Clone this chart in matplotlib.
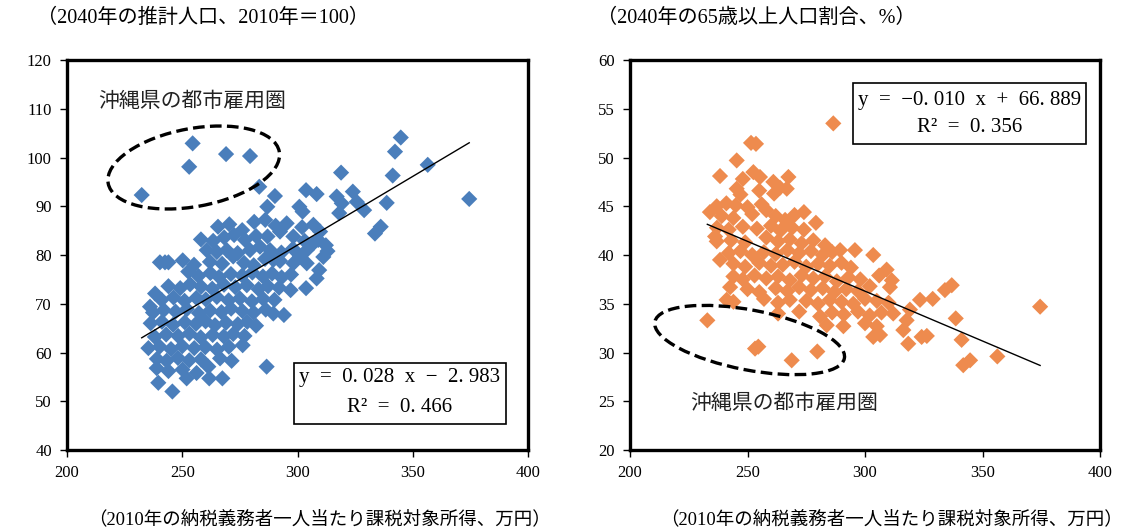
import numpy as np
import matplotlib
matplotlib.use('Agg')
import matplotlib.pyplot as plt
from matplotlib.patches import Ellipse, Rectangle
from matplotlib.transforms import IdentityTransform, ScaledTranslation

plt.rcParams['font.family'] = ['Liberation Serif', 'Noto Sans CJK JP']

# 左: 2040年の推計人口(2010年=100) vs 課税対象所得(万円)
income_l = [232.4, 254.5, 253.0, 269.0, 279.4, 344.8, 342.3, 356.5, 341.3, 318.9,
            374.5, 338.7, 283.4, 290.2, 286.9, 303.7, 308.3, 300.8, 302.2, 317.0,
            319.2, 318.1, 324.0, 325.7, 328.9, 333.6, 336.1, 265.5, 240.3, 242.5,
            244.0, 238.2, 236.0, 236.3, 235.3, 238.9, 239.6, 245.7, 251.9, 261.3,
            261.7, 267.4, 266.4, 271.4, 286.6, 276.2, 289.5, 294.1, 303.7, 308.3,
            311.2, 309.4, 260.6, 252.6,
            270.4, 276.0, 281.2, 286.0, 290.5, 295.3, 302.0, 306.9, 309.8,
            258.1, 263.4, 268.2, 272.5, 277.2, 282.0, 287.0, 292.4, 298.2, 303.1, 309.0, 312.3,
            265.0, 269.3, 274.0, 279.4, 283.7, 288.1, 293.0, 298.0, 304.0, 306.9, 313.0,
            250.2, 255.1, 262.0, 267.3, 272.1, 276.8, 281.0, 285.9, 289.5, 292.4, 298.2, 301.1, 304.0,
            257.0, 262.2, 266.0, 271.1, 276.0, 280.4, 285.0, 289.0, 293.1, 297.2,
            244.0, 249.1, 253.4, 258.2, 263.0, 268.1, 273.0, 278.0, 283.1, 287.2, 292.0, 297.0,
            241.0, 246.2, 251.0, 256.1, 260.2, 265.0, 270.1, 275.0, 280.2, 285.1, 290.0,
            237.3, 242.0, 247.1, 252.0, 257.2, 262.1, 267.0, 271.2, 276.1, 281.0, 286.2,
            241.2, 246.0, 251.1, 256.0, 260.1, 264.2, 269.0, 274.1, 278.2, 282.0,
            238.1, 243.0, 248.2, 253.1, 258.0, 263.2, 268.0, 272.1, 277.0,
            240.2, 245.1, 250.0, 255.2, 260.0, 265.1, 270.2,
            239.0, 243.2, 248.1, 253.0, 258.1,
            244.0, 250.1, 256.2]
pop_l = [92.3, 102.9, 98.1, 100.7, 100.3, 104.1, 101.2, 98.5, 96.3, 96.9,
         91.5, 90.7, 94.0, 92.1, 89.9, 93.3, 92.5, 89.9, 88.9, 92.0,
         90.6, 88.6, 93.0, 90.9, 89.2, 84.4, 85.8, 85.8, 78.5, 78.5,
         78.5, 72.1, 69.4, 66.0, 60.9, 56.8, 53.8, 52.0, 54.7, 57.1,
         54.7, 54.7, 58.8, 58.3, 57.1, 61.5, 68.0, 67.7, 73.2, 75.2,
         79.6, 76.9, 81.0, 76.6,
         86.3, 85.1, 86.8, 87.2, 86.0, 86.5, 85.7, 86.2, 84.8,
         83.2, 82.9, 83.6, 84.1, 83.1, 83.9, 83.8, 84.8, 83.8, 82.9, 83.1, 82.0,
         80.6, 81.0, 80.4, 81.0, 81.7, 81.0, 80.5, 81.3, 81.0, 82.4, 80.8,
         78.9, 78.0, 78.6, 78.2, 79.7, 78.4, 77.9, 79.2, 79.0, 78.8, 78.3, 79.7, 78.3,
         75.7, 76.3, 75.5, 76.1, 75.8, 76.4, 75.6, 76.2, 75.4, 76.0,
         73.6, 73.2, 74.0, 73.5, 73.1, 73.9, 73.4, 73.8, 73.0, 73.6, 73.3, 72.8,
         70.8, 71.3, 70.6, 71.2, 70.9, 71.4, 70.7, 71.1, 70.5, 71.0, 70.8,
         68.2, 68.7, 68.4, 68.9, 68.1, 68.6, 68.3, 69.0, 68.5, 68.2, 68.8,
         66.3, 65.7, 66.2, 65.9, 66.4, 65.6, 66.1, 65.8, 66.3, 65.5,
         63.2, 63.7, 63.4, 63.9, 63.1, 63.6, 63.3, 63.8, 63.4,
         61.2, 60.7, 61.3, 60.9, 61.1, 60.6, 61.2,
         58.7, 58.3, 58.9, 58.4, 58.6,
         56.2, 56.5, 55.8]

# 右: 2040年の65歳以上人口割合(%) vs 課税対象所得(万円)
income_r = [286.5, 251.5, 253.6, 245.4, 238.3, 252.5, 255.3, 267.4, 261.0, 248.0,
            245.4, 247.0, 261.3, 266.7, 255.0, 263.8,
            236.9, 241.0, 245.0, 250.0, 256.0, 258.0,
            234.0, 239.0, 244.0, 252.0, 262.0, 266.0, 270.0, 274.0, 279.1,
            237.0, 242.0, 248.0, 254.0, 260.0, 264.0, 269.0, 274.0,
            236.2, 236.9, 243.0, 249.0, 258.0, 263.0, 268.0, 273.0, 278.0, 283.0,
            238.3, 242.0, 247.0, 252.0, 257.0, 262.0, 267.0, 272.0, 277.0, 282.0, 286.0, 289.4, 295.7, 303.5,
            244.0, 249.0, 255.0, 260.0, 265.0, 270.0, 275.0, 280.0, 285.0, 290.0, 294.0,
            244.0, 248.0, 253.0, 258.0, 263.0, 268.0, 273.0, 278.0, 283.0, 288.0, 293.0, 298.0, 309.2, 306.0,
            242.6, 250.0, 255.0, 262.0, 267.0, 272.0, 277.0, 282.0, 287.0, 292.0, 297.0, 302.0,
            311.4, 310.6, 334.0, 336.9,
            241.1, 244.0, 257.0, 263.0, 268.0, 275.0, 280.0, 285.0, 290.0, 295.0, 300.0, 305.0,
            310.0, 323.4, 328.8,
            263.0, 272.0, 280.9, 286.0, 291.0, 297.0, 302.0, 307.0, 312.0, 319.1, 374.5,
            283.7, 290.8, 300.0, 305.0, 317.7, 316.3, 338.6,
            303.5, 306.4, 318.4, 324.1, 326.3, 341.1,
            341.8, 344.7, 356.3,
            232.9, 253.2, 254.6, 268.8, 279.7]
old_r = [53.5, 51.5, 51.4, 49.7, 48.1, 48.5, 48.0, 48.0, 47.5, 47.8,
         46.8, 46.2, 46.3, 46.8, 46.6, 46.9,
         45.0, 45.3, 45.1, 44.9, 45.2, 44.6,
         44.4, 44.0, 43.8, 44.2, 44.0, 43.6, 44.1, 44.4, 43.3,
         42.8, 42.6, 42.9, 42.7, 43.0, 42.5, 42.8, 42.6,
         41.9, 41.4, 41.5, 41.3, 41.8, 41.4, 41.6, 41.2, 41.5, 41.0,
         39.5, 40.2, 40.4, 40.0, 40.3, 40.1, 40.5, 40.2, 40.4, 40.0, 40.3, 40.5, 40.5, 40.0,
         39.1, 38.8, 39.2, 38.9, 39.0, 39.3, 38.8, 39.1, 38.9, 39.2, 38.7,
         37.8, 37.5, 37.9, 37.6, 37.8, 37.4, 37.9, 37.6, 37.8, 37.3, 37.7, 37.5, 38.5, 37.9,
         36.7, 36.5, 36.2, 36.6, 36.3, 36.7, 36.4, 36.6, 36.2, 36.5, 36.3, 36.8,
         37.4, 36.7, 36.4, 36.9,
         35.4, 35.2, 35.5, 35.1, 35.4, 35.3, 35.0, 35.4, 35.2, 35.0, 35.5, 35.3,
         35.1, 35.4, 35.5,
         34.0, 34.2, 33.7, 34.1, 33.9, 34.2, 33.8, 34.1, 34.0, 34.4, 34.7,
         32.8, 32.7, 33.0, 32.7, 33.3, 32.3, 33.5,
         31.6, 31.8, 30.9, 31.6, 31.7, 31.3,
         28.7, 29.2, 29.6,
         33.3, 30.4, 30.6, 29.2, 30.1]

# 近似直線 (傾き, 切片; 万円単位)
trend_l = (0.2815, -2.40)
trend_r = (-0.1022, 66.95)
eq_l = ['y  =  0. 028  x  −  2. 983', 'R²  =  0. 466']
eq_r = ['y  =  −0. 010  x  +  66. 889', 'R²  =  0. 356']

blue = '#4A7EBB'
orange = '#EE8B4E'

fig = plt.figure(figsize=(11.21, 5.31), dpi=100)
ax1 = fig.add_axes([0.0598, 0.1525, 0.4112, 0.7345])
ax2 = fig.add_axes([0.562, 0.1525, 0.4193, 0.7345])


def draw(ax, x, y, color, ylim, ystep, trend, eq, box, eq_y, label_xy, ell):
    ax.scatter(x, y, marker='D', s=68, color=color, edgecolors='none', zorder=2)
    lx = np.array([min(x), max(x)])
    ax.plot(lx, trend[0] * lx + trend[1], color='black', lw=1, zorder=3)
    ax.set_xlim(200, 400)
    ax.set_ylim(*ylim)
    ax.set_xticks(np.arange(200, 401, 50))
    ax.set_yticks(np.arange(ylim[0], ylim[1] + 1, ystep))
    ax.tick_params(direction='out', length=5, width=1, labelsize=12, pad=6)
    for s in ax.spines.values():
        s.set_linewidth(2.4)
    # 式のボックス
    ax.add_patch(Rectangle((box[0], box[1]), box[2], box[3], transform=ax.transAxes,
                           fill=False, lw=1.2, ec='black', zorder=4))
    cx = box[0] + box[2] / 2
    ax.text(cx, eq_y[0], eq[0], transform=ax.transAxes, ha='center', va='center', fontsize=15)
    ax.text(cx, eq_y[1], eq[1], transform=ax.transAxes, ha='center', va='center', fontsize=15)
    ax.text(label_xy[0], label_xy[1], '沖縄県の都市雇用圏', transform=ax.transAxes,
            ha='left', va='center', fontsize=15, family='Noto Sans CJK JP', color='#222222')
    # 破線の楕円 (ピクセル単位の大きさ)
    tr = IdentityTransform() + ScaledTranslation(ell[0], ell[1], ax.transData)
    ax.add_patch(Ellipse((0, 0), ell[2], ell[3], angle=ell[4], transform=tr, fill=False,
                         ec='black', lw=2.4, ls=(0, (3.5, 1.6)), zorder=4))


draw(ax1, income_l, pop_l, blue, (40, 120), 10, trend_l, eq_l,
     (0.4924, 0.0667, 0.4599, 0.1563), (0.185, 0.108), (0.068, 0.895),
     (254.97, 97.95, 174, 78, 10.5))
draw(ax2, income_r, old_r, orange, (20, 60), 5, trend_r, eq_r,
     (0.4745, 0.785, 0.4955, 0.156), (0.895, 0.826), (0.128, 0.121),
     (250.9, 31.28, 193, 60, -10.9))

fig.text(0.033, 0.966, '（2040年の推計人口、2010年＝100）', ha='left', va='center', fontsize=14.5)
fig.text(0.533, 0.966, '（2040年の65歳以上人口割合、%）', ha='left', va='center', fontsize=14.5)
fig.text(0.079, 0.021, '（2010年の納税義務者一人当たり課税対象所得、万円）', ha='left', va='center', fontsize=13.3)
fig.text(0.589, 0.021, '（2010年の納税義務者一人当たり課税対象所得、万円）', ha='left', va='center', fontsize=13.3)

fig.savefig('out.png', dpi=100)
